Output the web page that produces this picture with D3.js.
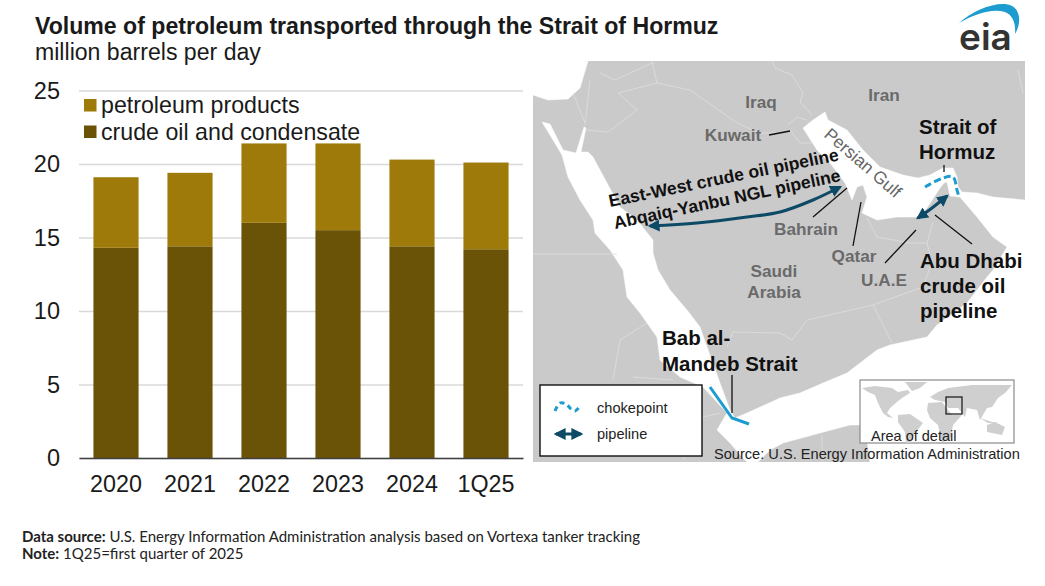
<!DOCTYPE html>
<html lang="en">
<head>
<meta charset="UTF-8">
<title>Volume of petroleum transported through the Strait of Hormuz</title>
<script src="https://d3js.org/d3.v7.min.js"></script>
<style>
    html, body {margin:0; padding:0; background:#fff;}
    svg {display:block;}
    text {font-family:"Liberation Sans", Arial, sans-serif;}
</style>
</head>
<body>
<svg id="chart" width="1045" height="586"></svg>
<script>
// chart data, million barrels per day
const categories = ['2020', '2021', '2022', '2023', '2024', '1Q25'];
const crudeOil = [14.3, 14.4, 16.0, 15.5, 14.4, 14.2];
const products = [4.8, 5.0, 5.4, 5.9, 5.9, 5.9];
const yTicks = [0, 5, 10, 15, 20, 25];
const seriesNames = ['crude oil and condensate', 'petroleum products'];
const seriesColors = ['#6a5206', '#9e7a0b'];

// map outlines
const seaMain = [[542,122],[550,124],[563,150],[576,153],[584,127],[586,128],[581,152],[588,152],[593,157],[607,183],[620,207],[637,220],[653,240],[653,253],[658,270],[670,290],[687,310],[700,327],[707,347],[720,383],[730,410],[735,418],[747,413],[780,398],[800,393],[823,383],[847,373],[877,350],[890,345],[927,337],[937,325],[967,303],[987,277],[993,270],[1007,247],[993,237],[977,217],[960,197],[962,192],[977,193],[993,197],[1025,200],[1025,462],[870,462],[865,425],[850,425],[820,433],[783,443],[770,450],[758,462],[747,462],[743,458],[730,443],[717,430],[727,413],[703,387],[680,377],[660,360],[657,337],[640,313],[627,297],[623,270],[610,250],[595,233],[593,220],[580,200],[568,177],[562,155],[550,135]];
const seaMed = [[533,61],[588,61],[580,88],[568,99],[548,100],[533,95]];
const seaGulf = [[803,128],[813,120],[825,112],[828,120],[847,130],[863,150],[880,167],[903,175],[918,178],[930,175],[943,168],[953,168],[957,177],[958,187],[962,192],[960,197],[950,196],[947,182],[944,183],[940,188],[927,208],[917,217],[897,217],[877,220],[862,213],[867,197],[863,185],[857,187],[852,200],[845,183],[830,163],[817,150]];
const borders = [
    [[618,93],[657,83],[690,90],[737,123],[760,133],[778,133]],
    [[618,93],[637,110],[608,132],[585,130]],
    [[652,61],[657,83]],
    [[600,73],[615,80],[652,63]],
    [[772,61],[775,68],[792,75],[803,93],[800,102],[812,115]],
    [[573,93],[585,123]],
    [[590,80],[585,125]],
    [[533,254],[617,254]],
    [[788,125],[797,117],[807,120]],
    [[790,130],[800,143],[813,143]],
    [[867,218],[877,237],[910,243],[927,243],[933,222]],
    [[927,243],[932,262],[923,287],[873,305],[807,320],[792,340],[780,333],[733,332],[727,347]],
    [[873,305],[892,343]],
    [[647,323],[620,340],[613,380]],
    [[633,377],[673,380]],
    [[720,413],[703,417],[683,460]],
    [[822,435],[822,462]],
    [[1018,70],[1023,93]]
];
const eastWestPipe = [[650,226],[697,223],[747,217],[780,212],[813,200],[840,187]];
const abuDhabiPipe = [[918,218],[932,208],[947,196]];
const hormuzChoke = [[925,187],[943,178],[953,177],[957,190],[959,197]];
const mandebChoke = [[710,387],[732,418],[749,424]];
const leaders = [
    [[769,135],[790,131]],
    [[813,217],[847,188]],
    [[853,246],[861,202]],
    [[885,263],[916,230]],
    [[935,215],[972,244]],
    [[944,165],[944,172]],
    [[732,375],[732,413]]
];
const worldLand = [
    [[862,388],[875,386],[892,388],[898,392],[908,390],[910,393],[902,398],[897,402],[890,408],[887,413],[893,418],[888,417],[883,413],[878,403],[875,395],[868,392]],
    [[905,382],[927,382],[920,388],[912,391]],
    [[898,415],[910,414],[923,423],[915,433],[910,443],[906,443],[905,432],[898,422]],
    [[928,403],[942,402],[952,415],[962,415],[953,425],[950,440],[942,442],[938,425],[930,418],[927,410]],
    [[930,397],[938,392],[948,388],[972,385],[1012,385],[1005,393],[998,398],[992,407],[987,408],[980,420],[977,410],[967,408],[965,417],[958,408],[948,408],[945,402],[935,400]],
    [[987,425],[995,422],[1005,427],[1002,435],[992,433],[987,432]],
    [[980,418],[992,422],[998,423],[988,423]]
];

const svg = d3.select('#chart');
const pathLine = d3.line();
const smoothLine = d3.line().curve(d3.curveCatmullRom);

// titles
svg.append('text').attr('x', 35).attr('y', 34).attr('font-size', 23.1).attr('font-weight', 700)
    .attr('fill', '#1a1a1a').text('Volume of petroleum transported through the Strait of Hormuz');
svg.append('text').attr('x', 35).attr('y', 60).attr('font-size', 23.1)
    .attr('fill', '#1a1a1a').text('million barrels per day');

// bars
const x = d3.scaleBand().domain(categories).range([79, 523]).paddingInner(0.39).paddingOuter(0.195);
const y = d3.scaleLinear().domain([0, 25]).range([458, 90.5]);
const table = categories.map((c, i) => ({cat: c, crude: crudeOil[i], products: products[i]}));
const stacked = d3.stack().keys(['crude', 'products'])(table);

const yAxis = d3.axisLeft(y).tickValues(yTicks).tickSize(-(523 - 79)).tickPadding(19).tickFormat(d3.format('d'));
const yG = svg.append('g').attr('transform', 'translate(79,0)').call(yAxis);
yG.select('.domain').remove();
yG.selectAll('.tick line').attr('stroke', '#d9d9d9').attr('stroke-width', 1.6);
yG.selectAll('.tick text').attr('font-size', 23.5).attr('fill', '#1a1a1a')
    .attr('font-family', '"Liberation Sans", Arial, sans-serif');

svg.append('g').selectAll('g').data(stacked).join('g')
    .attr('fill', (d, i) => seriesColors[i])
    .selectAll('rect').data(d => d).join('rect')
    .attr('x', d => x(d.data.cat))
    .attr('width', x.bandwidth())
    .attr('y', d => y(d[1]))
    .attr('height', d => y(d[0]) - y(d[1]));

const xAxis = d3.axisBottom(x).tickSize(0).tickPadding(17);
const xG = svg.append('g').attr('transform', `translate(0,${y(0)})`).call(xAxis);
xG.select('.domain').attr('stroke', '#404040').attr('stroke-width', 1.6);
xG.selectAll('.tick text').attr('font-size', 23.3).attr('fill', '#1a1a1a')
    .attr('font-family', '"Liberation Sans", Arial, sans-serif');

// legend
[1, 0].forEach((s, i) => {
    const top = 99 + i * 26.5;
    svg.append('rect').attr('x', 84).attr('y', top).attr('width', 12.5).attr('height', 12.5).attr('fill', seriesColors[s]);
    svg.append('text').attr('x', 101).attr('y', top + 14).attr('font-size', 23.2)
        .attr('fill', '#1a1a1a').text(seriesNames[s]);
});

// map
const map = svg.append('g');
map.append('rect').attr('x', 533).attr('y', 61).attr('width', 492).attr('height', 401).attr('fill', '#cbcacb');
[seaMain, seaMed, seaGulf].forEach(p => {
    map.append('path').attr('d', pathLine(p) + 'Z').attr('fill', '#fff').attr('stroke', '#fff').attr('stroke-width', 0.5);
});
map.selectAll('path.border').data(borders).join('path').attr('class', 'border')
    .attr('d', d => pathLine(d)).attr('fill', 'none').attr('stroke', '#dedede').attr('stroke-width', 0.8);

map.selectAll('path.leader').data(leaders).join('path').attr('class', 'leader')
    .attr('d', d => pathLine(d)).attr('fill', 'none').attr('stroke', '#111').attr('stroke-width', 1.3);

// arrow heads for the pipelines
const defs = svg.append('defs');
defs.append('marker').attr('id', 'head').attr('viewBox', '0 0 10 10').attr('refX', 8).attr('refY', 5)
    .attr('markerWidth', 4).attr('markerHeight', 4).attr('orient', 'auto-start-reverse')
    .append('path').attr('d', 'M0,0L10,5L0,10Z').attr('fill', '#0d4a66');
[eastWestPipe, abuDhabiPipe].forEach(p => {
    map.append('path').attr('d', smoothLine(p)).attr('fill', 'none').attr('stroke', '#0d4a66').attr('stroke-width', 3)
        .attr('marker-start', 'url(#head)').attr('marker-end', 'url(#head)');
});
map.append('path').attr('d', smoothLine(hormuzChoke)).attr('fill', 'none').attr('stroke', '#1d9ccf')
    .attr('stroke-width', 3).attr('stroke-dasharray', '7 3.5');
map.append('path').attr('d', pathLine(mandebChoke)).attr('fill', 'none').attr('stroke', '#1d9ccf').attr('stroke-width', 3);

const grayLabels = [['Iraq',761,108],['Iran',884,101],['Kuwait',733,141],['Bahrain',806,235],['Qatar',854,262],['U.A.E',884,286],['Saudi',774,277],['Arabia',774,298]];
grayLabels.forEach(d => {
    map.append('text').attr('x', d[1]).attr('y', d[2]).attr('text-anchor', 'middle').attr('font-size', 17.2)
        .attr('font-weight', 700).attr('fill', '#6a6a6a').text(d[0]);
});
map.append('text').attr('transform', 'translate(823,136) rotate(41)').attr('font-size', 17.4)
    .attr('fill', '#666').text('Persian Gulf');

const blackLabels = [['Strait of',919,134],['Hormuz',919,159],['Abu Dhabi',920,268],['crude oil',920,293],['pipeline',920,318],['Bab al-',662,345],['Mandeb Strait',662,371]];
blackLabels.forEach(d => {
    map.append('text').attr('x', d[1]).attr('y', d[2]).attr('font-size', 20.5)
        .attr('font-weight', 700).attr('fill', '#111').text(d[0]);
});
map.append('text').attr('transform', 'translate(610,207) rotate(-11.5)').attr('font-size', 17.6)
    .attr('font-weight', 700).attr('fill', '#111').text('East-West crude oil pipeline');
map.append('text').attr('transform', 'translate(615,229) rotate(-12)').attr('font-size', 17.6)
    .attr('font-weight', 700).attr('fill', '#111').text('Abqaiq-Yanbu NGL pipeline');

// map legend box
map.append('rect').attr('x', 540).attr('y', 385).attr('width', 162).attr('height', 71)
    .attr('fill', '#fff').attr('stroke', '#111').attr('stroke-width', 1.4);
map.append('path').attr('d', smoothLine([[555,411],[560,403],[566,404],[571,409],[575,411],[581,405]]))
    .attr('fill', 'none').attr('stroke', '#1d9ccf').attr('stroke-width', 3).attr('stroke-dasharray', '5 4');
map.append('path').attr('d', pathLine([[556,434],[581,434]])).attr('stroke', '#0d4a66').attr('stroke-width', 3)
    .attr('marker-start', 'url(#head)').attr('marker-end', 'url(#head)');
map.append('text').attr('x', 597).attr('y', 413).attr('font-size', 14.6).attr('fill', '#222').text('chokepoint');
map.append('text').attr('x', 597).attr('y', 439).attr('font-size', 14.6).attr('fill', '#222').text('pipeline');

// area of detail inset
map.append('rect').attr('x', 860).attr('y', 380).attr('width', 154).attr('height', 63)
    .attr('fill', '#fff').attr('stroke', '#8a8a8a').attr('stroke-width', 1.2);
map.selectAll('path.land').data(worldLand).join('path').attr('class', 'land')
    .attr('d', d => pathLine(d) + 'Z').attr('fill', '#cfcfcf');
map.append('rect').attr('x', 946).attr('y', 397).attr('width', 16).attr('height', 17)
    .attr('fill', 'none').attr('stroke', '#111').attr('stroke-width', 1.2);
map.append('text').attr('x', 871).attr('y', 441).attr('font-size', 14.5).attr('fill', '#222').text('Area of detail');
map.append('text').attr('x', 714).attr('y', 459).attr('font-size', 14.6).attr('fill', '#222')
    .text('Source: U.S. Energy Information Administration');

// eia logo
svg.append('path').attr('d', 'M959,23C975,9 1000,0 1012,6C1021,11 1021,24 1015,34C1016,24 1013,15 1005,12C992,8 975,14 959,23Z').attr('fill', '#1d9ccf');
svg.append('text').attr('x', 959).attr('y', 50).attr('font-size', 37)
    .attr('font-weight', 600).attr('fill', '#333').attr('style', 'font-family:Inter').text('eia');

// footer
const foot = [['Data source:', ' U.S. Energy Information Administration analysis based on Vortexa tanker tracking', 542], ['Note:', ' 1Q25=first quarter of 2025', 559]];
foot.forEach(f => {
    const t = svg.append('text').attr('x', 22).attr('y', f[2]).attr('font-size', 15).attr('fill', '#222').attr('style', 'font-family:Lato');
    t.append('tspan').attr('font-weight', 700).text(f[0]);
    t.append('tspan').text(f[1]);
});
</script>
</body>
</html>
